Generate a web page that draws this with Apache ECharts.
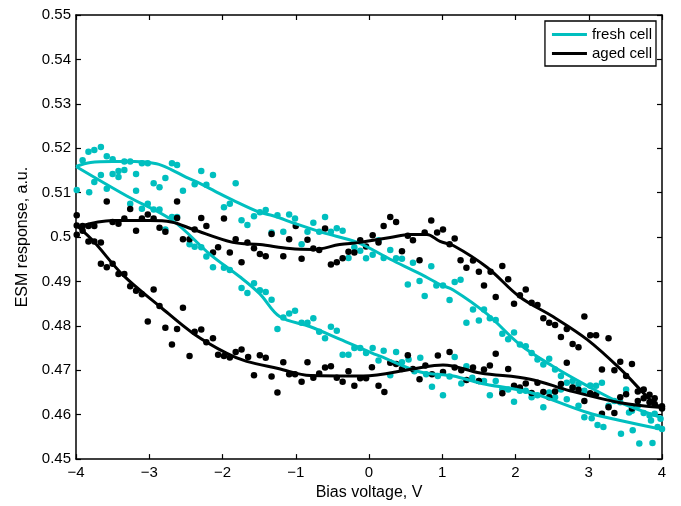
<!DOCTYPE html>
<html>
<head>
<meta charset="utf-8">
<script src="https://cdn.jsdelivr.net/npm/echarts@6/dist/echarts.min.js"></script>
<style>
  html, body { margin: 0; padding: 0; background: #fff; }
  #chart { width: 681px; height: 506px; }
</style>
</head>
<body>
<div id="chart"></div>
<script>
// Measured ESM response vs. bias voltage, [V, a.u.]
const freshPoints = [
  [-3.99,0.5106],[-3.91,0.5173],[-3.83,0.5192],[-3.82,0.5101],[-3.75,0.5196],[-3.75,0.5124],[-3.66,0.5203],[-3.66,0.5140],
  [-3.58,0.5182],[-3.58,0.5109],[-3.50,0.5175],[-3.50,0.5142],[-3.42,0.5149],[-3.42,0.5135],[-3.34,0.5170],[-3.34,0.5151],
  [-3.26,0.5170],[-3.26,0.5075],[-3.18,0.5142],[-3.18,0.5104],[-3.10,0.5166],[-3.10,0.5064],[-3.02,0.5166],[-3.02,0.5075],
  [-2.94,0.5121],[-2.94,0.5062],[-2.86,0.5112],[-2.86,0.5062],[-2.78,0.5133],[-2.78,0.5017],[-2.69,0.5166],[-2.69,0.5045],
  [-2.62,0.5162],[-2.62,0.5045],[-2.54,0.5104],[-2.45,0.4984],[-2.38,0.5119],[-2.38,0.4978],[-2.29,0.5149],[-2.29,0.4977],
  [-2.22,0.5118],[-2.22,0.4956],[-2.13,0.5140],[-2.13,0.4932],[-1.98,0.5067],[-1.98,0.4931],[-1.90,0.5075],[-1.90,0.4926],
  [-1.82,0.5121],[-1.74,0.5038],[-1.74,0.4885],[-1.66,0.5027],[-1.66,0.4874],[-1.57,0.5047],[-1.57,0.4896],[-1.49,0.5056],
  [-1.49,0.4880],[-1.41,0.5061],[-1.41,0.4876],[-1.33,0.5010],[-1.33,0.4859],[-1.25,0.5049],[-1.25,0.4793],[-1.17,0.5012],
  [-1.17,0.4819],[-1.09,0.5051],[-1.09,0.4828],[-1.01,0.5042],[-1.01,0.4834],[-0.92,0.4984],[-0.92,0.4807],[-0.84,0.5012],
  [-0.84,0.4807],[-0.76,0.5032],[-0.76,0.4817],[-0.68,0.5012],[-0.68,0.4787],[-0.60,0.5045],[-0.60,0.4772],[-0.52,0.5012],
  [-0.52,0.4798],[-0.44,0.5020],[-0.44,0.4789],[-0.36,0.5014],[-0.36,0.4735],[-0.28,0.4953],[-0.28,0.4735],[-0.20,0.4977],
  [-0.20,0.4750],[-0.12,0.4969],[-0.12,0.4750],[-0.04,0.4952],[-0.04,0.4739],[0.05,0.4960],[0.05,0.4750],[0.13,0.4993],
  [0.13,0.4722],[0.20,0.4953],[0.20,0.4744],[0.29,0.4971],[0.29,0.4689],[0.37,0.4952],[0.37,0.4741],[0.45,0.4951],
  [0.45,0.4718],[0.53,0.4893],[0.54,0.4724],[0.60,0.4942],[0.62,0.4698],[0.69,0.4901],[0.70,0.4728],[0.76,0.4867],
  [0.78,0.4691],[0.85,0.4934],[0.86,0.4663],[0.92,0.4891],[0.94,0.4687],[1.01,0.4891],[1.01,0.4644],[1.10,0.4858],
  [1.10,0.4686],[1.17,0.4899],[1.17,0.4730],[1.25,0.4904],[1.26,0.4670],[1.33,0.4807],[1.33,0.4709],[1.42,0.4837],
  [1.41,0.4683],[1.50,0.4812],[1.50,0.4676],[1.57,0.4837],[1.57,0.4676],[1.65,0.4817],[1.65,0.4644],[1.73,0.4813],
  [1.73,0.4676],[1.82,0.4782],[1.82,0.4657],[1.90,0.4770],[1.90,0.4657],[1.98,0.4785],[1.98,0.4629],[2.06,0.4758],
  [2.06,0.4654],[2.14,0.4754],[2.14,0.4654],[2.22,0.4739],[2.22,0.4639],[2.30,0.4724],[2.30,0.4644],[2.38,0.4713],
  [2.38,0.4617],[2.46,0.4726],[2.46,0.4650],[2.54,0.4702],[2.54,0.4639],[2.62,0.4687],[2.62,0.4657],[2.70,0.4672],
  [2.70,0.4635],[2.78,0.4676],[2.78,0.4661],[2.86,0.4669],[2.86,0.4620],[2.94,0.4654],[2.94,0.4594],[3.02,0.4666],
  [3.04,0.4592],[3.10,0.4665],[3.12,0.4577],[3.18,0.4672],[3.20,0.4572],[3.27,0.4620],[3.35,0.4631],[3.43,0.4628],
  [3.44,0.4557],[3.51,0.4657],[3.55,0.4605],[3.59,0.4609],[3.60,0.4565],[3.67,0.4620],[3.69,0.4535],[3.75,0.4604],
  [3.83,0.4598],[3.85,0.4587],[3.87,0.4536],[3.90,0.4602],[3.94,0.4572],[3.98,0.4591],[4.00,0.4568]
];

const agedPoints = [
  [-3.99,0.5049],[-3.99,0.5026],[-3.99,0.5005],[-3.91,0.5025],[-3.91,0.5014],[-3.83,0.5025],[-3.83,0.4990],[-3.75,0.5025],
  [-3.75,0.4990],[-3.66,0.4988],[-3.66,0.4940],[-3.58,0.5080],[-3.58,0.4932],[-3.50,0.5034],[-3.50,0.4940],[-3.42,0.5030],
  [-3.42,0.4917],[-3.34,0.5042],[-3.34,0.4917],[-3.26,0.5063],[-3.26,0.4889],[-3.18,0.5014],[-3.18,0.4879],[-3.10,0.5042],
  [-3.10,0.4871],[-3.02,0.5051],[-3.02,0.4810],[-2.94,0.5042],[-2.94,0.4882],[-2.86,0.5021],[-2.86,0.4845],[-2.78,0.5012],
  [-2.78,0.4796],[-2.69,0.4758],[-2.62,0.5080],[-2.62,0.5043],[-2.62,0.4793],[-2.54,0.4995],[-2.54,0.4841],[-2.45,0.4995],
  [-2.45,0.4732],[-2.38,0.5017],[-2.38,0.4787],[-2.29,0.5043],[-2.29,0.4792],[-2.22,0.5025],[-2.22,0.4763],[-2.13,0.4965],
  [-2.13,0.4772],[-2.06,0.4977],[-2.06,0.4735],[-1.98,0.5042],[-1.98,0.4732],[-1.90,0.4965],[-1.90,0.4729],[-1.82,0.4995],
  [-1.82,0.4741],[-1.74,0.4943],[-1.74,0.4747],[-1.66,0.4988],[-1.65,0.4730],[-1.57,0.4975],[-1.57,0.4689],[-1.49,0.4962],
  [-1.49,0.4734],[-1.41,0.4957],[-1.41,0.4728],[-1.33,0.5007],[-1.33,0.4686],[-1.25,0.4650],[-1.17,0.4957],[-1.17,0.4718],
  [-1.09,0.4995],[-1.09,0.4691],[-1.00,0.5025],[-1.01,0.4691],[-0.92,0.4951],[-0.92,0.4674],[-0.84,0.4994],[-0.84,0.4718],
  [-0.76,0.4974],[-0.76,0.4683],[-0.68,0.4971],[-0.68,0.4693],[-0.60,0.5019],[-0.60,0.4706],[-0.52,0.4938],[-0.52,0.4709],
  [-0.44,0.4943],[-0.44,0.4683],[-0.36,0.4952],[-0.36,0.4674],[-0.28,0.4967],[-0.28,0.4698],[-0.20,0.4965],[-0.20,0.4665],
  [-0.12,0.4993],[-0.12,0.4682],[-0.04,0.4979],[-0.04,0.4682],[0.05,0.5004],[0.04,0.4707],[0.13,0.4988],[0.13,0.4665],
  [0.20,0.5025],[0.21,0.4651],[0.29,0.5045],[0.29,0.4717],[0.37,0.5034],[0.37,0.4714],[0.45,0.4968],[0.45,0.4703],
  [0.53,0.5003],[0.53,0.4734],[0.60,0.4993],[0.60,0.4703],[0.69,0.4948],[0.69,0.4680],[0.76,0.5010],[0.77,0.4711],
  [0.85,0.5037],[0.86,0.4691],[0.93,0.5010],[0.94,0.4733],[1.01,0.5017],[1.01,0.4696],[1.10,0.4984],[1.10,0.4741],
  [1.17,0.4997],[1.17,0.4706],[1.25,0.4948],[1.26,0.4700],[1.33,0.4931],[1.33,0.4678],[1.42,0.4947],[1.42,0.4706],
  [1.50,0.4922],[1.50,0.4676],[1.57,0.4891],[1.57,0.4702],[1.66,0.4922],[1.65,0.4711],[1.73,0.4865],[1.73,0.4737],
  [1.82,0.4935],[1.82,0.4648],[1.90,0.4905],[1.90,0.4703],[1.98,0.4850],[1.98,0.4665],[2.06,0.4869],[2.06,0.4661],
  [2.14,0.4882],[2.14,0.4670],[2.22,0.4852],[2.22,0.4649],[2.30,0.4847],[2.30,0.4672],[2.38,0.4817],[2.38,0.4651],
  [2.46,0.4807],[2.46,0.4639],[2.54,0.4802],[2.54,0.4652],[2.62,0.4775],[2.62,0.4669],[2.70,0.4793],[2.70,0.4717],
  [2.78,0.4759],[2.78,0.4661],[2.86,0.4752],[2.86,0.4656],[2.94,0.4821],[2.94,0.4631],[3.02,0.4779],[3.02,0.4648],
  [3.10,0.4779],[3.10,0.4646],[3.18,0.4702],[3.18,0.4602],[3.27,0.4772],[3.27,0.4617],[3.35,0.4700],[3.35,0.4604],
  [3.43,0.4719],[3.43,0.4639],[3.51,0.4687],[3.51,0.4646],[3.59,0.4714],[3.59,0.4614],[3.67,0.4652],[3.67,0.4631],
  [3.75,0.4657],[3.75,0.4637],[3.83,0.4645],[3.83,0.4628],[3.90,0.4637],[3.90,0.4624],[4.00,0.4619],[4.00,0.4614]
];

// Smoothed hysteresis branches
const freshUpper = [
  [-4.0,0.5159],[-3.8,0.5168],[-3.5,0.5170],[-3.2,0.5170],[-2.9,0.5165],[-2.7,0.5152],[-2.5,0.5135],[-2.31,0.5121],
  [-2.1,0.5103],[-1.86,0.5083],[-1.5,0.5056],[-1.31,0.5048],[-1.0,0.5030],[-0.63,0.5010],[-0.16,0.4988],[0.29,0.4950],
  [0.7,0.4917],[0.97,0.4893],[1.15,0.4881],[1.61,0.4827],[2.06,0.4758],[2.51,0.4709],[2.98,0.4665],[3.43,0.4627],[4.0,0.4593]
];
const freshLower = [
  [-4.0,0.5159],[-3.3,0.5092],[-2.68,0.5037],[-2.17,0.4961],[-1.76,0.4910],[-1.49,0.4872],[-1.22,0.4821],[-0.8,0.4798],
  [-0.40,0.4770],[0.05,0.4738],[0.15,0.4732],[0.7,0.4696],[1.15,0.4687],[1.52,0.4671],[2.2,0.4650],[2.98,0.4605],
  [3.43,0.4587],[4.0,0.4567]
];
const agedUpper = [
  [-3.97,0.5023],[-3.5,0.5037],[-3.0,0.5037],[-2.7,0.5034],[-2.4,0.5017],[-1.86,0.4988],[-1.49,0.4983],[-1.08,0.4974],
  [-0.76,0.4972],[-0.40,0.4983],[-0.12,0.4988],[0.29,0.4999],[0.56,0.5006],[0.79,0.5006],[0.97,0.4990],[1.15,0.4981],
  [1.61,0.4932],[2.06,0.4865],[2.51,0.4821],[2.98,0.4769],[3.43,0.4703],[3.88,0.4627],[4.0,0.4616]
];
const agedLower = [
  [-3.97,0.5023],[-3.77,0.4992],[-3.35,0.4913],[-2.85,0.4843],[-2.40,0.4783],[-1.94,0.4738],[-1.67,0.4720],[-1.24,0.4704],
  [-0.80,0.4688],[-0.08,0.4687],[0.60,0.4703],[1.01,0.4712],[1.52,0.4694],[2.2,0.4680],[2.74,0.4654],[3.43,0.4627],[4.0,0.4616]
];

const xTicks = { min: -4, max: 4, step: 1 };
const yTicks = { min: 0.45, max: 0.55, step: 0.01 };

const FRESH = '#00bfbf';
const AGED = '#000000';
const FONT = 'Liberation Sans, Arial, Helvetica, sans-serif';

const chart = echarts.init(document.getElementById('chart'), null, { renderer: 'canvas' });

const frameLine = { show: true, onZero: false, lineStyle: { color: '#000', width: 1.5 } };
const inTicks = { show: true, inside: true, length: 5, lineStyle: { color: '#000', width: 1.2 } };
const fmtX = v => (v < 0 ? '\u2212' + Math.abs(v) : String(v));
const fmtY = v => String(+v.toFixed(2));

function lineSeries(name, data, color) {
  return {
    name, type: 'line', data, smooth: 0.35, symbol: 'none',
    lineStyle: { color, width: 3 }, itemStyle: { color },
    silent: true, animation: false
  };
}
function dotSeries(name, data, color) {
  return {
    name, type: 'scatter', data, symbol: 'circle', symbolSize: 6.5,
    itemStyle: { color, opacity: 1 }, silent: true, animation: false
  };
}

chart.setOption({
  backgroundColor: '#fff',
  animation: false,
  textStyle: { fontFamily: FONT },
  grid: { left: 76, right: 19, top: 15, bottom: 42 },
  legend: {
    data: ['fresh cell', 'aged cell'],
    right: 25, top: 21,
    orient: 'vertical',
    icon: 'rect', itemWidth: 35, itemHeight: 3, itemGap: 4,
    padding: [6, 4, 5, 7],
    borderColor: '#000', borderWidth: 1.3, backgroundColor: '#fff',
    textStyle: { fontSize: 15, color: '#000', fontFamily: FONT },
    selectedMode: false
  },
  xAxis: [
    {
      type: 'value', min: xTicks.min, max: xTicks.max, interval: xTicks.step,
      position: 'bottom',
      name: 'Bias voltage, V', nameLocation: 'middle', nameGap: 25,
      nameTextStyle: { fontSize: 16, color: '#000', fontFamily: FONT },
      axisLine: frameLine, axisTick: inTicks,
      axisLabel: { color: '#000', fontSize: 15, margin: 6, formatter: fmtX, fontFamily: FONT },
      splitLine: { show: false }
    },
    {
      type: 'value', min: xTicks.min, max: xTicks.max, interval: xTicks.step,
      position: 'top', axisLine: frameLine, axisTick: inTicks,
      axisLabel: { show: false }, splitLine: { show: false }
    }
  ],
  yAxis: [
    {
      type: 'value', min: yTicks.min, max: yTicks.max, interval: yTicks.step,
      position: 'left',
      name: 'ESM response, a.u.', nameLocation: 'middle', nameGap: 45,
      nameTextStyle: { fontSize: 16, color: '#000', fontFamily: FONT },
      axisLine: frameLine, axisTick: inTicks,
      axisLabel: { color: '#000', fontSize: 15, margin: 5, formatter: fmtY, fontFamily: FONT },
      splitLine: { show: false }
    },
    {
      type: 'value', min: yTicks.min, max: yTicks.max, interval: yTicks.step,
      position: 'right', axisLine: frameLine, axisTick: inTicks,
      axisLabel: { show: false }, splitLine: { show: false }
    }
  ],
  series: [
    dotSeries('fresh cell data', freshPoints, FRESH),
    dotSeries('aged cell data', agedPoints, AGED),
    lineSeries('fresh cell', freshUpper, FRESH),
    lineSeries('fresh cell', freshLower, FRESH),
    lineSeries('aged cell', agedUpper, AGED),
    lineSeries('aged cell', agedLower, AGED)
  ]
});
</script>
</body>
</html>
